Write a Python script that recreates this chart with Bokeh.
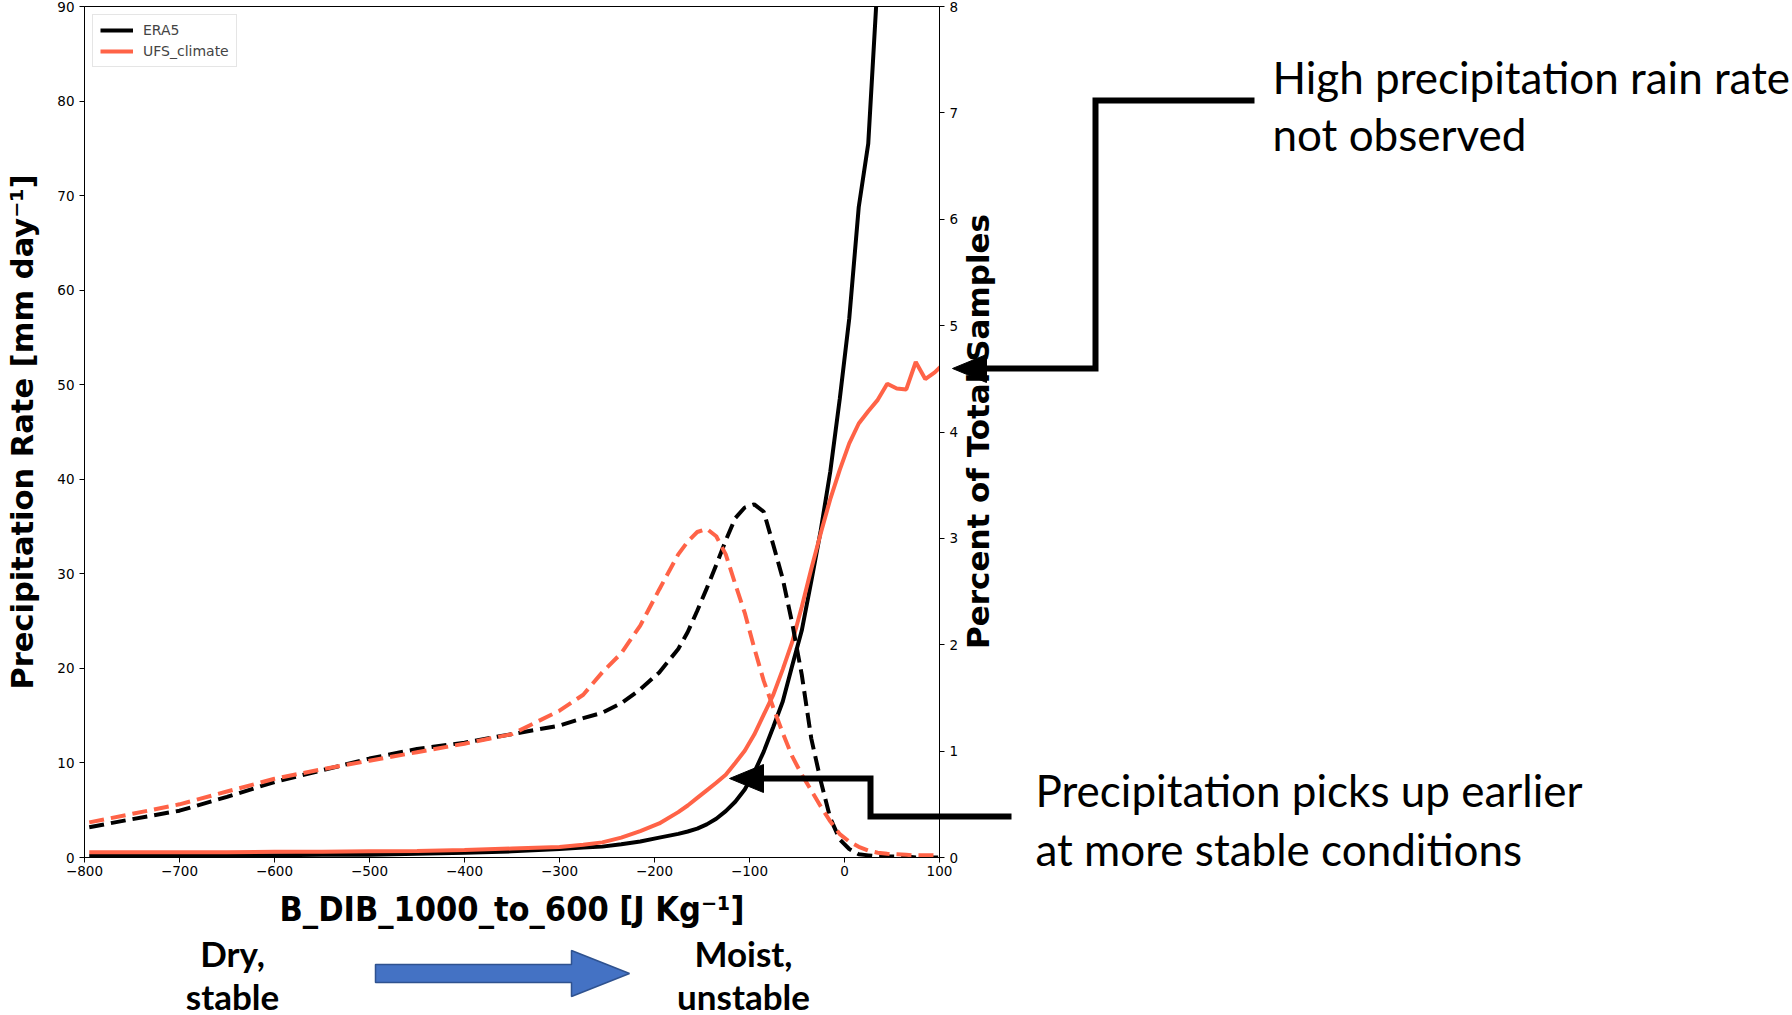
import math
from bokeh.plotting import figure
from bokeh.models import Range1d, LinearAxis, FixedTicker, Column
from bokeh.core.properties import value
from bokeh.embed import file_html
from bokeh.resources import INLINE

# ---------------- data ----------------
bins = [-795, -750, -700, -650, -600, -550, -500, -450, -400, -350, -300, -275, -255,
        -235, -215, -195, -175, -165, -155, -145, -135, -125, -115, -105, -95, -85,
        -75, -65, -55, -45, -35, -25, -15, -5, 5, 15, 25, 35, 45, 55, 65, 75, 85, 95, 105]

# precipitation rate [mm/day] (left axis)
era5_rate = [0.15, 0.15, 0.2, 0.2, 0.25, 0.3, 0.3, 0.4, 0.5, 0.65, 0.9, 1.05, 1.15,
             1.4, 1.7, 2.1, 2.5, 2.75, 3.05, 3.5, 4.1, 4.9, 5.9, 7.2, 9.0, 11.2,
             13.8, 16.5, 20.3, 24.0, 29.2, 34.6, 40.8, 48.5, 57.0, 68.8, 75.5, 93.0]
ufs_rate = [0.55, 0.55, 0.55, 0.55, 0.6, 0.6, 0.65, 0.7, 0.8, 0.95, 1.1, 1.35, 1.6,
            2.1, 2.8, 3.6, 4.8, 5.5, 6.3, 7.1, 7.9, 8.75, 10.0, 11.3, 13.0, 15.1,
            17.2, 19.9, 22.8, 26.5, 30.5, 34.3, 37.9, 41.0, 43.8, 45.9, 47.2, 48.4,
            50.1, 49.6, 49.5, 52.4, 50.6, 51.3, 52.3]

# percent of total samples (right axis)
era5_pct = [0.285, 0.36, 0.44, 0.57, 0.71, 0.82, 0.93, 1.02, 1.08, 1.16, 1.24, 1.31, 1.36,
            1.45, 1.58, 1.74, 1.96, 2.12, 2.32, 2.53, 2.75, 2.98, 3.19, 3.29, 3.32, 3.25,
            2.94, 2.62, 2.20, 1.72, 1.12, 0.72, 0.37, 0.17, 0.08, 0.03, 0.02, 0.01,
            0.01, 0.01, 0.01, 0.0, 0.0, 0.0, 0.0]
ufs_pct = [0.33, 0.41, 0.50, 0.62, 0.74, 0.83, 0.91, 0.99, 1.07, 1.16, 1.38, 1.53, 1.74,
           1.92, 2.18, 2.52, 2.85, 2.97, 3.06, 3.09, 3.02, 2.85, 2.57, 2.30, 1.97, 1.66,
           1.41, 1.17, 0.95, 0.78, 0.63, 0.48, 0.34, 0.22, 0.15, 0.10, 0.065, 0.045,
           0.035, 0.03, 0.025, 0.02, 0.02, 0.02, 0.02]

x_ticks = [-800, -700, -600, -500, -400, -300, -200, -100, 0, 100]
x_tick_labels = ["\u2212800", "\u2212700", "\u2212600", "\u2212500", "\u2212400",
                 "\u2212300", "\u2212200", "\u2212100", "0", "100"]
left_ticks = [0, 10, 20, 30, 40, 50, 60, 70, 80, 90]
right_ticks = [0, 1, 2, 3, 4, 5, 6, 7, 8]

series_names = ["ERA5", "UFS_climate"]
x_title = "B_DIB_1000_to_600 [J Kg\u207b\u00b9]"
y_title = "Precipitation Rate [mm day\u207b\u00b9]"
y2_title = "Percent of Total Samples"

note_top = ["High precipitation rain rate", "not observed"]
note_bottom = ["Precipitation picks up earlier", "at more stable conditions"]
dry_text = ["Dry,", "stable"]
moist_text = ["Moist,", "unstable"]

# ---------------- styling ----------------
W, H = 1792, 1015
FL, FR, FT, FB = 84, 939, 6, 857
UFS_COLOR = "#FF6347"
LW = 4
DASH = "15 7"

p = figure(width=W, height=H, x_range=Range1d(-800, 100), y_range=Range1d(0, 90),
           output_backend="svg", toolbar_location=None,
           min_border_left=FL, min_border_right=W - FR,
           min_border_top=FT, min_border_bottom=H - FB)
p.frame_align = False
p.extra_y_ranges = {"pct": Range1d(0, 8)}
p.grid.visible = False
p.outline_line_color = "black"
p.outline_line_width = 1
p.background_fill_color = "white"
p.border_fill_color = "white"

p.line(x=bins[:len(era5_rate)], y=era5_rate, line_color="black", line_width=LW,
       legend_label=series_names[0])
p.line(x=bins, y=ufs_rate, line_color=UFS_COLOR, line_width=LW,
       legend_label=series_names[1])
p.line(x=bins, y=era5_pct, line_color="black", line_width=LW, line_dash=DASH,
       y_range_name="pct")
p.line(x=bins, y=ufs_pct, line_color=UFS_COLOR, line_width=LW, line_dash=DASH,
       y_range_name="pct")

right = LinearAxis(y_range_name="pct", ticker=FixedTicker(ticks=right_ticks))
p.add_layout(right, "right")


def style_axis(ax):
    ax.major_tick_out = 5
    ax.major_tick_in = 0
    ax.minor_tick_out = 0
    ax.minor_tick_in = 0
    ax.major_tick_line_color = "black"
    ax.axis_line_color = "black"
    ax.major_label_text_font = "DejaVu Sans"
    ax.major_label_text_font_size = "13.5px"
    ax.major_label_text_color = "black"
    ax.axis_label_text_font_style = "bold"
    ax.axis_label_text_color = "black"


xax = p.below[0]
style_axis(xax)
xax.ticker = FixedTicker(ticks=x_ticks)
xax.major_label_overrides = dict(zip(x_ticks, x_tick_labels))
xax.major_label_standoff = 3
xax.axis_label = x_title
xax.axis_label_text_font = "DejaVu Sans Condensed"
xax.axis_label_text_font_size = "34px"
xax.axis_label_standoff = 10

yax = p.left[0]
style_axis(yax)
yax.ticker = FixedTicker(ticks=left_ticks)
yax.axis_label = y_title
yax.axis_label_text_font = "DejaVu Sans"
yax.axis_label_text_font_size = "30.5px"
yax.axis_label_standoff = 14

style_axis(right)

lg = p.legend[0]
lg.location = "top_left"
lg.margin = 8
lg.padding = 7
lg.spacing = 5
lg.glyph_width = 33
lg.glyph_height = 16
lg.label_height = 16
lg.label_standoff = 10
lg.label_text_font = "DejaVu Sans"
lg.label_text_font_size = "14px"
lg.border_line_color = "#cccccc"
lg.background_fill_alpha = 0.8

# ---------------- overlay for the slide annotations ----------------
ov = figure(width=W, height=H, x_range=Range1d(0, W), y_range=Range1d(H, 0),
            output_backend="svg", toolbar_location=None, min_border=0,
            x_axis_type=None, y_axis_type=None)
ov.frame_align = False
ov.outline_line_color = None
ov.background_fill_color = None
ov.border_fill_color = None
ov.grid.visible = False
ov.margin = (-H, 0, 0, 0)

# right axis title (reads bottom-to-top, centred on the frame)
ov.text(x=[977], y=[431], text=[y2_title], angle=math.pi / 2,
        text_font=value("DejaVu Sans"), text_font_size=value("31px"),
        text_font_style="bold", text_align="center", text_baseline="middle",
        text_color="black")

NOTE_FONT = value("Lato")
ov.text(x=[1272, 1272], y=[76, 133], text=note_top, text_font=NOTE_FONT,
        text_font_size=value("44px"), text_baseline="alphabetic", text_align="left",
        text_color="black")
ov.text(x=[1035, 1035], y=[789, 848], text=note_bottom, text_font=NOTE_FONT,
        text_font_size=value("44px"), text_baseline="alphabetic", text_align="left",
        text_color="black")
ov.text(x=[232, 232], y=[952, 995], text=dry_text, text_font=NOTE_FONT,
        text_font_size=value("35px"), text_font_style="bold", text_baseline="alphabetic",
        text_align="center", text_color="black")
ov.text(x=[743, 743], y=[952, 995], text=moist_text, text_font=NOTE_FONT,
        text_font_size=value("35px"), text_font_style="bold", text_baseline="alphabetic",
        text_align="center", text_color="black")

# elbow arrows
ov.line(x=[1254, 1095, 1095, 985], y=[100, 100, 368, 368], line_color="black",
        line_width=6, line_join="miter")
ov.patch(x=[952, 986, 986], y=[368, 354, 382], fill_color="black", line_color="black")
ov.line(x=[1011, 870, 870, 762], y=[816, 816, 778, 778], line_color="black",
        line_width=6, line_join="miter")
ov.patch(x=[729, 763, 763], y=[778, 764, 792], fill_color="black", line_color="black")

# blue block arrow
ov.patch(x=[375, 571, 571, 629, 571, 571, 375], y=[964, 964, 950, 973, 996, 982, 982],
         fill_color="#4472C4", line_color="#2F528F", line_width=1.5)

layout = Column(children=[p, ov], spacing=0)
open("out.html", "w").write(file_html(layout, INLINE))
